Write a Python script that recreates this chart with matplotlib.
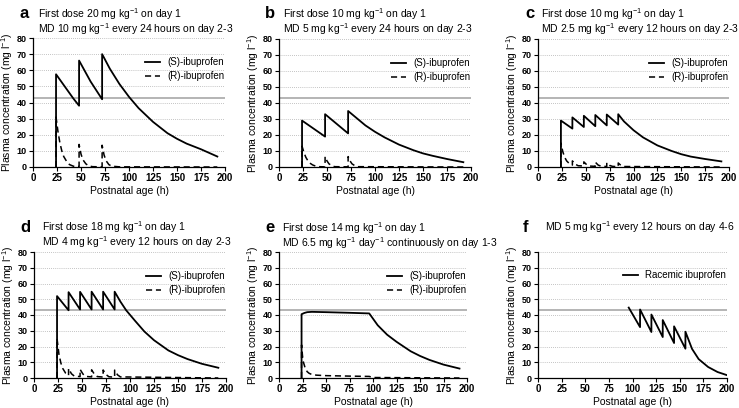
import numpy as np
import matplotlib
matplotlib.use("Agg")
import matplotlib.pyplot as plt
from matplotlib import rcParams

params = {
    'font.family': ['Liberation Sans', 'DejaVu Sans'],
    'mathtext.default': 'regular',
    'axes.linewidth': 0.9,
}
rcParams.update(params)

threshold = 43
xticks = [0, 25, 50, 75, 100, 125, 150, 175, 200]
yticks = [0, 10, 20, 30, 40, 50, 60, 70, 80]

# panel a
a_s_t = [24, 24, 30, 36, 42, 48, 48, 54, 60, 66, 72, 72, 80, 90, 100, 110, 125, 140, 150, 160, 175, 192]
a_s_c = [0, 57.5, 52.5, 47.5, 42.5, 38, 66, 59.5, 53, 47.5, 42, 70, 61, 51.5, 43.5, 36.5, 28, 21, 17.5, 14.5, 11, 6.5]
a_r_t = [24, 24, 26, 28, 30, 32, 35, 38, 42, 48, 48, 50, 52, 55, 58, 62, 72, 72, 74, 76, 79, 82, 90, 192]
a_r_c = [0, 31, 22, 15, 10, 6.5, 3.5, 1.5, 0.5, 0.2, 14, 8, 4.5, 2, 0.7, 0.2, 0.1, 13.5, 7.5, 4, 1.5, 0.5, 0.1, 0]

# panel b
b_s_t = [24, 24, 30, 36, 42, 48, 48, 54, 60, 66, 72, 72, 80, 90, 100, 110, 125, 140, 150, 160, 175, 192]
b_s_c = [0, 29, 26.5, 24, 21.5, 19, 33, 30, 27, 24, 21, 35, 31, 26, 22, 18.5, 14, 10.5, 8.5, 7, 5, 3]
b_r_t = [24, 24, 26, 28, 30, 32, 35, 38, 42, 48, 48, 50, 52, 55, 58, 72, 72, 74, 76, 79, 82, 192]
b_r_c = [0, 13, 9, 6, 4, 2.5, 1.3, 0.6, 0.2, 0.1, 6.5, 3.8, 2, 0.8, 0.2, 0.1, 6.5, 3.8, 2, 0.8, 0.2, 0]

# panel c
c_s_t = [24, 24, 36, 36, 48, 48, 60, 60, 72, 72, 84, 84, 90, 100, 110, 125, 140, 150, 160, 175, 192]
c_s_c = [0, 29, 24, 31, 25, 32, 25.5, 32.5, 26, 32.8, 26.5, 33, 28.5, 23, 18.5, 13.5, 10, 8, 6.5, 5, 3.5]
c_r_t = [24, 24, 26, 28, 30, 33, 36, 36, 39, 42, 48, 48, 51, 54, 60, 60, 63, 66, 72, 72, 75, 78, 84, 84, 87, 90, 192]
c_r_c = [0, 15, 9.5, 6, 3.8, 2, 1.2, 3.8, 1.8, 0.8, 0.6, 3.2, 1.4, 0.6, 0.4, 3, 1.2, 0.5, 0.3, 2.7, 1, 0.4, 0.2, 2.5, 0.9, 0.3, 0]

# panel d
d_s_t = [24, 24, 36, 36, 48, 48, 60, 60, 72, 72, 84, 84, 90, 96, 105, 115, 125, 140, 150, 160, 175, 192]
d_s_c = [0, 52, 43, 54.5, 43.5, 54.7, 43.5, 54.8, 43.5, 54.8, 43.5, 54.8, 48.5, 43, 36.5, 29.5, 24, 17.5, 14.5, 12, 9, 6.5]
d_r_t = [24, 24, 26, 28, 30, 33, 36, 36, 39, 42, 48, 48, 51, 54, 60, 60, 63, 66, 72, 72, 75, 78, 84, 84, 87, 90, 192]
d_r_c = [0, 25, 15, 9.5, 6, 3, 1.6, 6, 2.7, 1.2, 0.9, 5.5, 2.5, 1, 0.7, 5.2, 2.3, 0.9, 0.6, 5.1, 2.2, 0.8, 0.5, 5, 2, 0.7, 0]

# panel e
e_s_t = [24, 24, 27, 30, 35, 50, 75, 96, 105, 115, 125, 140, 150, 160, 175, 192]
e_s_c = [0, 40.5, 41.3, 41.8, 42, 41.8, 41.4, 41, 33.5, 27.5, 23, 17, 14, 11.5, 8.5, 6]
e_r_t = [24, 24, 25, 26, 28, 30, 32, 35, 40, 50, 75, 96, 100, 192]
e_r_c = [0, 21, 14, 10, 6, 4, 3, 2.2, 1.8, 1.5, 1.2, 1, 0.3, 0]

# panel f
f_t = [96, 108, 108, 120, 120, 132, 132, 144, 144, 156, 156, 163, 170, 180, 190, 200]
f_c = [44.7, 32.3, 43.5, 29.2, 40.3, 26, 36.8, 22.2, 32.8, 18.6, 29.4, 18.5, 12, 7, 3.8, 1.8]

# rect = left, top, right, bottom in px; title y's in px; letter/text x offsets
panels = [
    dict(letter="a", rect=(33, 38, 225, 167), ty=(14, 29), lx=-14, tx=5,
         lines=["First dose 20 mg kg$^{-1}$ on day 1",
                "MD 10 mg kg$^{-1}$ every 24 hours on day 2-3"],
         s=(a_s_t, a_s_c), r=(a_r_t, a_r_c)),
    dict(letter="b", rect=(279, 39, 471, 167), ty=(14, 29), lx=-14, tx=4,
         lines=["First dose 10 mg kg$^{-1}$ on day 1",
                "MD 5 mg kg$^{-1}$ every 24 hours on day 2-3"],
         s=(b_s_t, b_s_c), r=(b_r_t, b_r_c)),
    dict(letter="c", rect=(538, 39, 729, 167), ty=(14, 29), lx=-13, tx=3,
         lines=["First dose 10 mg kg$^{-1}$ on day 1",
                "MD 2.5 mg kg$^{-1}$ every 12 hours on day 2-3"],
         s=(c_s_t, c_s_c), r=(c_r_t, c_r_c)),
    dict(letter="d", rect=(34, 252, 226, 378), ty=(227, 242), lx=-14, tx=8,
         lines=["First dose 18 mg kg$^{-1}$ on day 1",
                "MD 4 mg kg$^{-1}$ every 12 hours on day 2-3"],
         s=(d_s_t, d_s_c), r=(d_r_t, d_r_c)),
    dict(letter="e", rect=(279, 252, 467, 378), ty=(228, 243), lx=-14, tx=3,
         lines=["First dose 14 mg kg$^{-1}$ on day 1",
                "MD 6.5 mg kg$^{-1}$ day$^{-1}$ continuously on day 1-3"],
         s=(e_s_t, e_s_c), r=(e_r_t, e_r_c)),
    dict(letter="f", rect=(538, 252, 727, 378), ty=(227,), lx=-15, tx=7,
         lines=["MD 5 mg kg$^{-1}$ every 12 hours on day 4-6"],
         rac=(f_t, f_c)),
]

W, H = 739, 408
fig = plt.figure(figsize=(W / 100, H / 100), dpi=100)

for p in panels:
    x0, y0, x1, y1 = p["rect"]
    w, h = x1 - x0, y1 - y0
    ax = fig.add_axes([x0 / W, 1 - y1 / H, w / W, h / H])
    for v in yticks[1:]:
        ax.axhline(v, color="#b0b0b0", lw=0.6, ls=(0, (1, 1.5)), zorder=0)
    ax.axhline(threshold, color="#a0a0a0", lw=1.1, zorder=1)
    if "rac" in p:
        ax.plot(p["rac"][0], p["rac"][1], c="black", lw=1.3, label="Racemic ibuprofen")
    else:
        ax.plot(p["s"][0], p["s"][1], c="black", lw=1.3, label="(S)-ibuprofen")
        ax.plot(p["r"][0], p["r"][1], c="black", lw=1.1, ls=(0, (4, 2.5)), label="(R)-ibuprofen")
    ax.set_xlim(0, 200)
    ax.set_ylim(0, 80)
    ax.set_xticks(xticks, [str(v) for v in xticks], fontsize=7, fontweight="bold")
    ax.set_yticks(yticks, [str(v) for v in yticks], fontsize=6.5, fontweight="bold")
    ax.spines["top"].set_visible(False)
    ax.spines["right"].set_visible(False)
    ax.tick_params(length=3, width=0.8, pad=1.5)
    ax.set_xlabel("Postnatal age (h)", fontsize=7.5, labelpad=2)
    ax.set_ylabel("Plasma concentration (mg l$^{-1}$)", fontsize=7.5)
    ax.yaxis.set_label_coords(-18 / w, 0.5)
    top = (y1 - (y0 + 19)) / h if "rac" not in p else (y1 - (y0 + 18)) / h
    ax.legend(loc="upper right", bbox_to_anchor=(0.995, top), frameon=False,
              fontsize=7, handlelength=1.6, handletextpad=0.7, labelspacing=0.45,
              borderpad=0, borderaxespad=0)

    fig.text((x0 + p["lx"]) / W, 1 - p["ty"][0] / H, p["letter"], fontsize=12,
             fontweight="bold", va="center", ha="left")
    for ty, line in zip(p["ty"], p["lines"]):
        fig.text((x0 + p["tx"]) / W, 1 - ty / H, line, fontsize=7.5, va="center")

fig.savefig("out.png", dpi=100)
